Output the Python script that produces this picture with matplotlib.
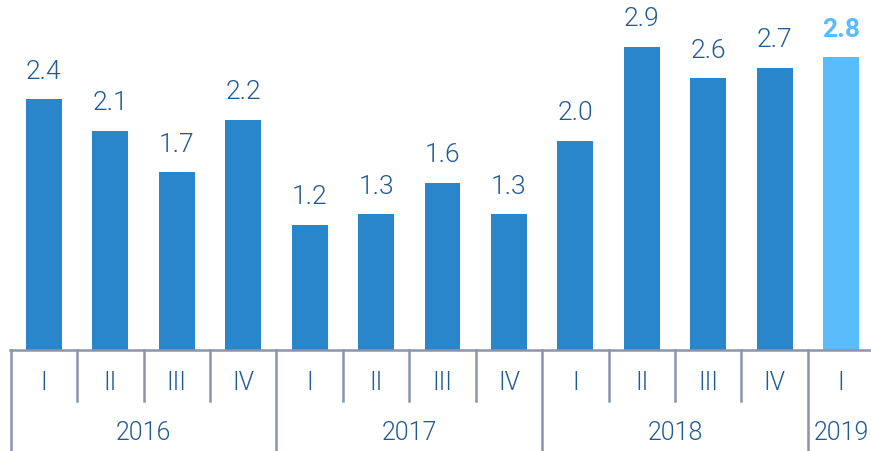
import matplotlib.pyplot as plt
import matplotlib.transforms as mtransforms

quarters = ["I", "II", "III", "IV", "I", "II", "III", "IV", "I", "II", "III", "IV", "I"]
values = [2.4, 2.1, 1.7, 2.2, 1.2, 1.3, 1.6, 1.3, 2.0, 2.9, 2.6, 2.7, 2.8]
years = ["2016", "2017", "2018", "2019"]
year_sizes = [4, 4, 4, 1]

plt.rcParams['font.family'] = ['Roboto', 'DejaVu Sans']

W, H = 871, 451
fig = plt.figure(figsize=(W / 100, H / 100), dpi=100)
ax = fig.add_axes([10 / W, (H - 350) / H, 861 / W, 350 / H])

bar_col = "#2a86cb"
last_col = "#5bbcfd"
txt_col = "#1f5a95"
line_col = "#8a94ad"

x = list(range(len(values)))
colors = [bar_col] * (len(values) - 1) + [last_col]
ax.bar(x, values, width=0.54, color=colors)

for i, v in enumerate(values):
    if i == len(values) - 1:
        ax.text(i, v + 0.15, f"{v:.1f}", ha="center", va="bottom", fontsize=19,
                color=last_col, fontweight="bold")
    else:
        ax.text(i, v + 0.15, f"{v:.1f}", ha="center", va="bottom", fontsize=19,
                color=txt_col, fontweight=300)

ax.set_xlim(-0.51, 12.45)
ax.set_ylim(0, 3.35)
ax.axis("off")

trans = mtransforms.blended_transform_factory(ax.transData, ax.transAxes)
ax.plot([-0.51, 12.45], [0, 0], color=line_col, lw=1.8, transform=trans, clip_on=False)

# separators
start = 0
major = []
for n in year_sizes:
    major.append(start - 0.5)
    start += n
for i in range(len(values)):
    xs = i - 0.5
    bottom = -0.289 if xs in major else -0.146
    ax.plot([xs, xs], [0, bottom], color=line_col, lw=1.8, transform=trans, clip_on=False)

for i, q in enumerate(quarters):
    ax.text(i, -0.095, q, ha="center", va="center", fontsize=18, color=txt_col,
            fontweight=300, transform=trans)

start = 0
for y, n in zip(years, year_sizes):
    c = start + (n - 1) / 2
    ax.text(c, -0.237, y, ha="center", va="center", fontsize=18, color=txt_col,
            fontweight=300, transform=trans)
    start += n

fig.savefig("out.png", dpi=100)
